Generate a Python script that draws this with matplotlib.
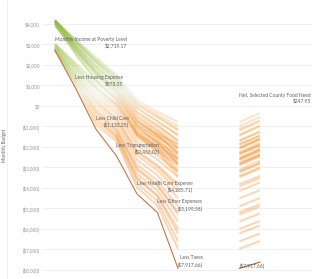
import numpy as np
import matplotlib
matplotlib.use("Agg")
import matplotlib.pyplot as plt
from matplotlib.collections import LineCollection
from matplotlib.colors import LinearSegmentedColormap, Normalize

# ---- data -------------------------------------------------------------
steps = ["Monthly Income at Poverty Level", "Less Housing Expense", "Less Child Care",
         "Less Transportation", "Less Health Care Expense", "Less Other Expenses", "Less Taxes"]
net_label = "Net, Selected County Food Need"

# one entry per county line (monthly amounts)
income    = [4160, 4160, 4160, 4100, 4120, 4160, 4050, 4160, 3950, 4160, 3900, 4200,
             3050, 2950, 2900, 2850, 2800, 2760, 2740, 2730, 2720, 2980, 3000, 2780, 2750, 2735,
             4160, 4140, 4080, 4160, 4000, 4160, 4100, 4160, 3980,
             3020, 2920, 2870, 2820, 2790, 2745, 2725]
housing   = [910, 1000, 1100, 1150, 1250, 1300, 1350, 1450, 1400, 1600, 1200, 1050,
             950, 1050, 1150, 1250, 1350, 1450, 1550, 1650, 1750, 1100, 1000, 1300, 1500, 1600,
             960, 1050, 1120, 1180, 1220, 1280, 1320, 1380, 1420,
             980, 1100, 1200, 1300, 1400, 1500, 1700]
childcare = [880, 950, 900, 1000, 1050, 1150, 1100, 1200, 1250, 1300, 1000, 980,
             900, 950, 1050, 1150, 1300, 1450, 1600, 1750, 1900, 980, 1100, 1250, 1500, 1680,
             920, 1000, 1020, 1080, 1120, 1180, 1220, 1260, 1300,
             920, 1000, 1100, 1220, 1380, 1530, 1820]
transport = [870, 820, 900, 850, 880, 900, 920, 950, 900, 980, 870, 860,
             800, 820, 850, 870, 900, 920, 950, 780, 790, 830, 860, 880, 930, 960,
             850, 880, 860, 900, 890, 910, 930, 940, 960,
             810, 840, 860, 890, 910, 940, 800]
health    = [1200, 1300, 1350, 1400, 1450, 1500, 1550, 1600, 1650, 1700, 1400, 1250,
             1200, 1300, 1400, 1500, 1650, 1800, 1950, 2100, 2250, 1350, 1450, 1600, 1850, 2000,
             1250, 1320, 1380, 1420, 1480, 1520, 1580, 1620, 1680,
             1250, 1350, 1450, 1580, 1720, 1880, 2180]
other     = [590, 620, 650, 640, 700, 720, 700, 750, 760, 800, 680, 600,
             560, 600, 650, 700, 740, 780, 820, 860, 890, 620, 640, 720, 800, 840,
             600, 640, 660, 680, 690, 710, 730, 740, 770,
             580, 620, 680, 720, 760, 800, 870]
taxes     = [490, 600, 700, 760, 820, 900, 960, 1050, 1100, 1200, 800, 650,
             500, 600, 700, 850, 1000, 1250, 1500, 1800, 2100, 650, 760, 950, 1350, 1650,
             560, 640, 720, 780, 840, 880, 930, 1000, 1080,
             550, 650, 780, 920, 1120, 1380, 1950]
food_credit = [440, 430, 450, 420, 440, 430, 450, 420, 440, 430, 450, 440,
               420, 430, 440, 420, 410, 400, 390, 380, 370, 430, 440, 410, 390, 380,
               440, 430, 450, 420, 440, 430, 450, 420, 440,
               420, 430, 410, 400, 390, 380, 370]

# selected county
sel_income, sel_housing, sel_childcare = 2719.17, 1840.82, 2011.60
sel_transport, sel_health, sel_other, sel_taxes = 1302.77, 1849.69, 913.87, 2718.08
sel_food_credit = 300
sel_net_food_need = 247.95

yticks = list(range(-8000, 5000, 1000))

# ---- helpers ----------------------------------------------------------
def path(inc, exps):
    return np.concatenate([[inc], inc - np.cumsum(exps)])

def money(v):
    if round(v, 2) == 0:
        return "$0"
    return f"${v:,.2f}" if v > 0 else f"(${-v:,.2f})"

def tick_money(v, pos=None):
    if v == 0:
        return "$0"
    return f"${v:,.0f}" if v > 0 else f"(${-v:,.0f})"

vmin, vmax = -8000, 4200
nodes = [(-8000, "#ec7a20"), (-1500, "#f6942f"), (-300, "#f8bd7c"),
         (700, "#eeeedd"), (2000, "#c2d98a"), (4200, "#8fbb40")]
cmap = LinearSegmentedColormap.from_list(
    "div", [((v - vmin) / (vmax - vmin), c) for v, c in nodes])
norm = Normalize(vmin, vmax)

# ---- figure -----------------------------------------------------------
fig = plt.figure(figsize=(3.12, 2.79), dpi=100)
ax = fig.add_axes([42 / 312, 0, 1 - 42 / 312, 1])
ax.set_xlim(-0.634, 12.54)
ax.set_ylim(-8440, 5170)
for s in ax.spines.values():
    s.set_visible(False)
ax.set_xticks([])
ax.set_yticks(yticks)
ax.yaxis.set_major_formatter(matplotlib.ticker.FuncFormatter(tick_money))
ax.tick_params(axis="y", length=0, pad=1.5, labelsize=3.3, labelcolor="#959595")
for lab in ax.get_yticklabels():
    lab.set_family("Lato")
ax.grid(axis="y", color="#ededed", lw=0.6)
ax.set_axisbelow(True)

xs = np.arange(len(steps))
segs, cols = [], []
for i in range(len(income)):
    ys = path(income[i], [housing[i], childcare[i], transport[i], health[i], other[i], taxes[i]])
    xf = np.linspace(xs[0], xs[-1], 241)
    yf = np.interp(xf, xs, ys)
    pts = np.column_stack([xf, yf])
    for a, b in zip(pts[:-1], pts[1:]):
        segs.append([a, b])
        cols.append(cmap(norm((a[1] + b[1]) / 2)))
    # right group: final value and final + food credit
    fin = ys[-1]
    xr = np.linspace(9, 10, 11)
    yr = np.interp(xr, [9, 10], [fin, fin + food_credit[i]])
    pr = np.column_stack([xr, yr])
    for a, b in zip(pr[:-1], pr[1:]):
        segs.append([a, b])
        cols.append(cmap(norm((a[1] + b[1]) / 2)))

lc = LineCollection(segs, colors=cols, linewidths=1.5, alpha=0.33, capstyle="butt")
ax.add_collection(lc)

sel = path(sel_income, [sel_housing, sel_childcare, sel_transport, sel_health, sel_other, sel_taxes])
ax.plot(xs, sel, color="#c8773f", lw=0.8, zorder=5)
ax.plot([9, 10], [sel[-1], sel[-1] + sel_food_credit], color="#a8602e", lw=0.8, zorder=5)

fkw = dict(fontsize=3.5, color="#5e5e5e", family="Lato", ha="left", va="bottom",
           multialignment="right", zorder=6, linespacing=1.15)
for i, name in enumerate(steps):
    ax.text(xs[i], sel[i] + 80, f"{name}\n{money(sel[i])}", **fkw)
ax.text(9, sel_net_food_need - 150, f"{net_label}\n{money(sel_net_food_need)}", **fkw)
ax.text(9, sel[-1] + 20, money(sel[-1]), **fkw)

fig.text(5 / 312, 1 - 145 / 279, "Monthly Budget", rotation=90, fontsize=3.3,
         color="#666666", family="Lato", ha="center", va="center")
fig.add_artist(matplotlib.lines.Line2D([7 / 312, 7 / 312], [0, 1], color="#eeeeee", lw=0.6))

fig.savefig("out.png", dpi=100)
